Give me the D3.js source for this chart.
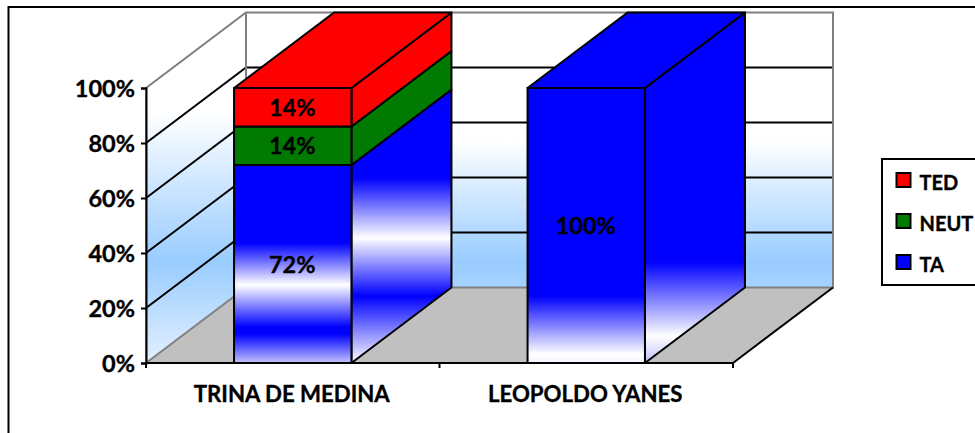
<!DOCTYPE html>
<html>
<head>
<meta charset="utf-8">
<script src="https://cdn.jsdelivr.net/npm/d3@7"></script>
<style>
  html, body { margin: 0; padding: 0; background: #fff; overflow: hidden; }
  text { font-family: Lato, "Open Sans", sans-serif; font-weight: 700; fill: #000; stroke: #000; stroke-width: 0.35px; }
  .axis path, .axis line { stroke: #000; stroke-width: 2px; }
  .ticks-y text { font-size: 23.5px; }
  .ticks-x text { font-size: 22.2px; }
  .value { font-size: 23.5px; text-anchor: middle; dominant-baseline: central; }
  .legend text { font-size: 20px; dominant-baseline: central; }
</style>
</head>
<body>
<svg id="chart" width="975" height="433"></svg>
<script>
var categories = ["TRINA DE MEDINA", "LEOPOLDO YANES"];
var seriesNames = ["TA", "NEUT", "TED"];
var TA = [72, 100];
var NEUT = [14, 0];
var TED = [14, 0];
var yTicks = [0, 20, 40, 60, 80, 100];

var seriesValues = { TA: TA, NEUT: NEUT, TED: TED };
var seriesColors = { TA: "#0000ff", NEUT: "#007a00", TED: "#ff0000" };

var left = 146, right = 733, top_ = 88, bottom = 363;
var depthX = 100, depthY = -75.5;

var svg = d3.select("#chart");
var defs = svg.append("defs");

var x = d3.scaleBand().domain(categories).range([left, right]).paddingInner(0.6).paddingOuter(0.3);
var y = d3.scaleLinear().domain([0, 100]).range([bottom, top_]);

// vertical gradients in page coordinates, [y, color]
function gradient(id, stops) {
  var g = defs.append("linearGradient").attr("id", id)
    .attr("gradientUnits", "userSpaceOnUse")
    .attr("x1", 0).attr("x2", 0)
    .attr("y1", stops[0][0]).attr("y2", stops[stops.length - 1][0]);
  var span = stops[stops.length - 1][0] - stops[0][0];
  stops.forEach(function(s) {
    g.append("stop").attr("offset", (s[0] - stops[0][0]) / span).attr("stop-color", s[1]);
  });
}
gradient("backWall", [[12, "#fff"], [140, "#fff"], [262, "#99ccff"], [288, "#a6d2ff"]]);
gradient("sideWall", [[12, "#fff"], [112, "#fff"], [262, "#99ccff"], [363, "#e4f0ff"]]);
gradient("taFront", [[165, "#00f"], [243, "#00f"], [285, "#fff"], [327, "#00f"], [334, "#00f"], [363, "#c4c4ff"]]);
gradient("taSide", [[90, "#00f"], [178, "#00f"], [238, "#fff"], [296, "#00f"], [363, "#fff"]]);
gradient("fullFront", [[88, "#00f"], [296, "#00f"], [354, "#fff"], [363, "#f4f4ff"]]);
gradient("fullSide", [[12, "#00f"], [262, "#00f"], [336, "#fff"], [363, "#c0c0ff"]]);

function poly(points) {
  return d3.line()(points) + "Z";
}

// a face running from the front plane to the back wall
function sideFace(xPos, y0, y1) {
  return poly([[xPos, y0], [xPos + depthX, y0 + depthY], [xPos + depthX, y1 + depthY], [xPos, y1]]);
}

var wallBack = svg.append("g");

// back wall, floor and left wall
wallBack.append("rect")
  .attr("x", left + depthX).attr("y", y(100) + depthY)
  .attr("width", right - left).attr("height", y(0) - y(100))
  .attr("fill", "url(#backWall)");
wallBack.append("path")
  .attr("d", sideFace(left, y(0), y(100)))
  .attr("fill", "url(#sideWall)");
wallBack.append("path")
  .attr("d", poly([[left, y(0)], [right, y(0)], [right + depthX, y(0) + depthY], [left + depthX, y(0) + depthY]]))
  .attr("fill", "#c0c0c0");

// gridlines run along the left wall and across the back wall
yTicks.filter(function(t) { return t > 0 && t < 100; }).forEach(function(t) {
  wallBack.append("path")
    .attr("d", d3.line()([[left, y(t)], [left + depthX, y(t) + depthY], [right + depthX, y(t) + depthY]]))
    .attr("fill", "none").attr("stroke", "#000").attr("stroke-width", 2);
});

// wall outline
wallBack.append("path")
  .attr("d", d3.line()([[left, y(0)], [left, y(100)], [left + depthX, y(100) + depthY], [right + depthX, y(100) + depthY], [right + depthX, y(0) + depthY], [left + depthX, y(0) + depthY], [left, y(0)]]))
  .attr("fill", "none").attr("stroke", "#808080").attr("stroke-width", 2);
wallBack.append("line")
  .attr("x1", left + depthX).attr("x2", left + depthX)
  .attr("y1", y(100) + depthY).attr("y2", y(0) + depthY)
  .attr("stroke", "#808080").attr("stroke-width", 2);
wallBack.append("path")
  .attr("d", d3.line()([[right, y(0)], [right + depthX, y(0) + depthY]]))
  .attr("stroke", "#000").attr("stroke-width", 2);

var bars = svg.append("g");
var labels = [];

categories.forEach(function(cat, i) {
  var x0 = x(cat), x1 = x(cat) + x.bandwidth();
  var base = 0;
  seriesNames.forEach(function(name) {
    var v = seriesValues[name][i];
    if (!v) return;
    var yLow = y(base), yHigh = y(base + v);
    var front = seriesColors[name], side = seriesColors[name];
    if (name === "TA") {
      front = v === 100 ? "url(#fullFront)" : "url(#taFront)";
      side = v === 100 ? "url(#fullSide)" : "url(#taSide)";
    }
    bars.append("path").attr("d", sideFace(x1, yLow, yHigh))
      .attr("fill", side).attr("stroke", "#000").attr("stroke-width", 2).attr("stroke-linejoin", "round");
    bars.append("rect")
      .attr("x", x0).attr("y", yHigh).attr("width", x1 - x0).attr("height", yLow - yHigh)
      .attr("fill", front).attr("stroke", "#000").attr("stroke-width", 2);
    labels.push({ x: (x0 + x1) / 2, y: (yLow + yHigh) / 2, text: v + "%" });
    base += v;
  });
  // lid of the stack takes the color of the topmost series
  var topName = seriesNames.filter(function(n) { return seriesValues[n][i] > 0; }).pop();
  bars.append("path")
    .attr("d", poly([[x0, y(base)], [x1, y(base)], [x1 + depthX, y(base) + depthY], [x0 + depthX, y(base) + depthY]]))
    .attr("fill", seriesColors[topName]).attr("stroke", "#000").attr("stroke-width", 2).attr("stroke-linejoin", "round");
});

svg.append("g").selectAll("text").data(labels).enter().append("text")
  .attr("class", "value")
  .attr("x", function(d) { return d.x - 0.5; })
  .attr("y", function(d) { return d.y - 0.5; })
  .text(function(d) { return d.text; });

// axes
var yAxis = d3.axisLeft(y).tickValues(yTicks).tickSize(5).tickPadding(6)
  .tickFormat(function(d) { return d + "%"; });
svg.append("g").attr("class", "axis ticks-y")
  .attr("transform", "translate(" + left + ",0)")
  .call(yAxis)
  .selectAll("text").attr("dy", "0.36em");

var xAxis = d3.axisBottom(x).tickSize(0).tickPadding(23);
var xg = svg.append("g").attr("class", "axis ticks-x")
  .attr("transform", "translate(-1," + bottom + ")")
  .call(xAxis);
xg.select(".domain").remove();

var edges = [left, left + x.step(), right];
svg.append("g").attr("class", "axis").selectAll("line").data(edges).enter().append("line")
  .attr("x1", function(d) { return d; }).attr("x2", function(d) { return d; })
  .attr("y1", bottom).attr("y2", bottom + 5);
svg.append("line").attr("x1", left - 1).attr("x2", right + 1)
  .attr("y1", bottom).attr("y2", bottom).attr("stroke", "#000").attr("stroke-width", 2);

// legend, TED on top
var legendNames = seriesNames.slice().reverse();
var legendY = d3.scalePoint().domain(legendNames).range([180, 262]);
var legend = svg.append("g").attr("class", "legend");
legend.append("path")
  .attr("d", "M975,159H882V285H975")
  .attr("fill", "#fff").attr("stroke", "#000").attr("stroke-width", 2);
legendNames.forEach(function(name) {
  legend.append("rect")
    .attr("x", 896.5).attr("y", legendY(name) - 7).attr("width", 14).attr("height", 14)
    .attr("fill", seriesColors[name]).attr("stroke", "#000").attr("stroke-width", 2);
  legend.append("text").attr("x", 919.5).attr("y", legendY(name) + 1.5).text(name);
});

// outer chart frame, cut by the window on the right and bottom
svg.append("path")
  .attr("d", "M8.5,433V7H975")
  .attr("fill", "none").attr("stroke", "#000").attr("stroke-width", 2);
</script>
</body>
</html>
